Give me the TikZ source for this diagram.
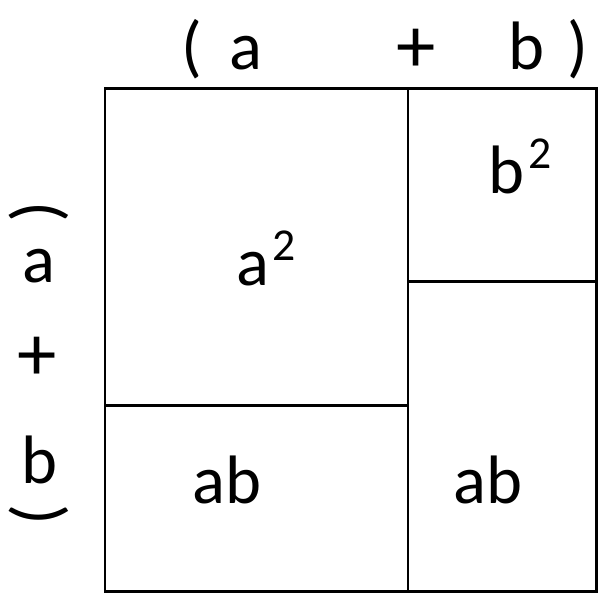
\documentclass[tikz,border=0pt]{standalone}
\usepackage{fontspec}
\setmainfont{Carlito}
\usepackage{tikz}
\usetikzlibrary{positioning, calc}
\newcommand{\sqr}{\hspace{2pt}\raisebox{14pt}{\fontsize{26}{30}\selectfont 2}}

\begin{document}
\begin{tikzpicture}[
    x=0.02cm, y=-0.02cm,
    grid/.style={draw=black, line width=1.7pt},
    lbl/.style={anchor=base, inner sep=0pt, font=\fontsize{39}{47}\selectfont, text=black}
]
\useasboundingbox (0,0) rectangle (598,593);

% corners of the square and the split points
\coordinate (tl) at (105,88);
\coordinate (br) at (596,591);
\coordinate (midtop) at (408,88);
\coordinate (midbot) at (408,591);
\coordinate (lefth) at (105,405);
\coordinate (midh) at (408,405);
\coordinate (righth) at (596,281);
\coordinate (midr) at (408,281);

\draw[grid] (tl) rectangle (br);
\draw[grid] (midtop) -- (midbot);
\draw[grid] (lefth) -- (midh);
\draw[grid] (midr) -- (righth);

% labels
\foreach \nm/\px/\py/\txt in {
    topopen/192/69/{(}, topa/246/69/{a}, topplus/416/72/{\scalebox{1.15}{+}}, topb/526/69/{b}, topclose/578/69/{)},
    lefta/39/282/{a}, leftplus/37/380/{\scalebox{1.15}{+}}, leftb/39/483/{b},
    asq/266/285/{a\sqr}, bsq/520/193/{b\sqr},
    abl/227/503/{ab}, abr/488/503/{ab}}
{
    \node[lbl] (\nm) at (\px,\py) {\txt};
}

% parentheses on the left side lie on their backs
\node[lbl, anchor=center, rotate=-90] (leftopen) at (39,212) {(};
\node[lbl, anchor=center, rotate=-90] (leftclose) at (39,515) {)};
\end{tikzpicture}
\end{document}
